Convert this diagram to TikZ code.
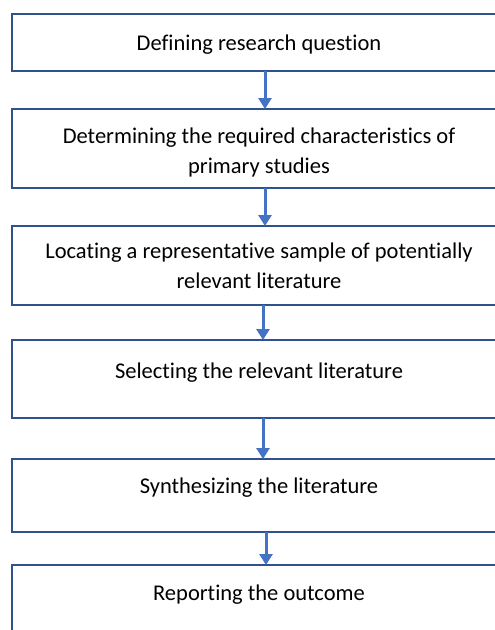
\documentclass[tikz,border=0pt]{standalone}
\usepackage{fontspec}
\setmainfont[Ligatures={NoCommon,NoRare,NoContextual}]{Carlito}
\usetikzlibrary{arrows.meta}

\definecolor{boxline}{HTML}{2F528F}
\definecolor{arrowblue}{HTML}{4472C4}

\begin{document}
\begin{tikzpicture}[x=1pt,y=-1pt,
  box/.style={draw=boxline,line width=1.5pt,fill=white,minimum width=494pt,
    anchor=north,align=center,inner sep=0pt,outer sep=0pt,
    font=\fontsize{22.5}{30}\selectfont},
  arr/.style={draw=arrowblue,line width=3pt,-{Triangle[width=13pt,length=11pt]}}]
  \useasboundingbox (0,0) rectangle (495,630);
  \clip (0,0) rectangle (495,630);
  \node[box,text height=36.7pt,text depth=20.3pt] (define) at (259,14)
    {Defining research question};
  \node[box,text height=64.3pt,text depth=14.7pt] (determine) at (259,109)
    {Determining the required characteristics of\\primary studies};
  \node[box,text height=62.3pt,text depth=16.7pt] (locate) at (259,226)
    {Locating a representative sample of potentially\\relevant literature};
  \node[box,text height=38.3pt,text depth=39.7pt] (select) at (259,340)
    {Selecting the relevant literature};
  \node[box,text height=34.3pt,text depth=38.7pt] (synth) at (259,459)
    {Synthesizing the literature};
  \node[box,text height=35pt,text depth=45pt] (report) at (259,565)
    {Reporting the outcome};
  \draw[arr] ([xshift=6pt]define.south) -- ([xshift=6pt]determine.north);
  \draw[arr] ([xshift=6pt]determine.south) -- ([xshift=6pt]locate.north);
  \draw[arr] ([xshift=4pt]locate.south) -- ([xshift=4pt]select.north);
  \draw[arr] ([xshift=4pt]select.south) -- ([xshift=4pt]synth.north);
  \draw[arr] ([xshift=7pt]synth.south) -- ([xshift=7pt]report.north);
\end{tikzpicture}
\end{document}
